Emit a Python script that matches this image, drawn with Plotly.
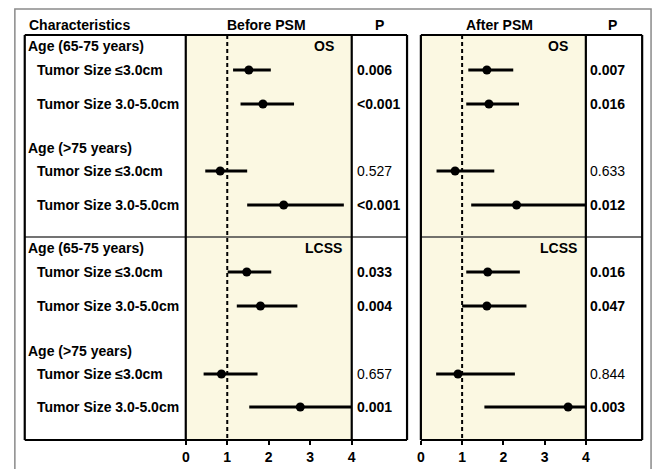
import plotly.graph_objects as go

W, H = 659, 469

# ---------------- data ----------------
row_labels = ["Age (65-75 years)", "Tumor Size ≤3.0cm", "Tumor Size 3.0-5.0cm",
              "Age (>75 years)", "Tumor Size ≤3.0cm", "Tumor Size 3.0-5.0cm",
              "Age (65-75 years)", "Tumor Size ≤3.0cm", "Tumor Size 3.0-5.0cm",
              "Age (>75 years)", "Tumor Size ≤3.0cm", "Tumor Size 3.0-5.0cm"]
row_is_header = [True, False, False, True, False, False,
                 True, False, False, True, False, False]

# estimates per data row (None for header rows)
before_hr = [None, 1.52, 1.86, None, 0.83, 2.36, None, 1.47, 1.80, None, 0.86, 2.76]
before_lo = [None, 1.14, 1.32, None, 0.47, 1.48, None, 1.01, 1.23, None, 0.43, 1.53]
before_hi = [None, 2.05, 2.61, None, 1.48, 3.81, None, 2.06, 2.69, None, 1.73, 4.00]
before_p = [None, "0.006", "<0.001", None, "0.527", "<0.001", None, "0.033", "0.004", None, "0.657", "0.001"]

after_hr = [None, 1.60, 1.65, None, 0.83, 2.32, None, 1.62, 1.60, None, 0.90, 3.57]
after_lo = [None, 1.15, 1.10, None, 0.38, 1.22, None, 1.10, 1.00, None, 0.37, 1.54]
after_hi = [None, 2.24, 2.38, None, 1.78, 4.00, None, 2.40, 2.56, None, 2.28, 4.00]
after_p = [None, "0.007", "0.016", None, "0.633", "0.012", None, "0.016", "0.047", None, "0.844", "0.003"]

section_labels = ["OS", "LCSS"]
x_ticks = [0, 1, 2, 3, 4]
ref_value = 1

# ---------------- layout constants (pixels) ----------------
BOX_TOP, BOX_BOT = 35, 440
DIVIDER_Y = 237
ROW_Y = [46, 70, 104, 148, 171, 205, 248, 272, 306, 351, 374, 407]
SECTION_Y = [46, 248]
X_CHAR_L, X_CHAR_R = 21, 184
X_B_R, X_BP_R = 352, 408
X_A_L, X_A_R, X_AP_R = 422, 589, 646
FONT = "Liberation Sans"
FS = 14


def pxx(x):
    return x / W


def pxy(y):
    return 1 - y / H


fig = go.Figure()


def add_panel(hr, lo, hi, xa):
    lx, ly = [], []
    for v, a, b, y in zip(hr, lo, hi, ROW_Y):
        if v is None:
            continue
        lx += [a, b, None]
        ly += [y, y, None]
    fig.add_trace(go.Scatter(x=lx, y=ly, mode="lines", xaxis=xa, yaxis="y",
                             line=dict(color="black", width=3), hoverinfo="skip",
                             showlegend=False))
    mx = [v for v in hr if v is not None]
    my = [y for v, y in zip(hr, ROW_Y) if v is not None]
    fig.add_trace(go.Scatter(x=mx, y=my, mode="markers", xaxis=xa, yaxis="y",
                             marker=dict(color="black", size=9), showlegend=False))


add_panel(before_hr, before_lo, before_hi, "x")
add_panel(after_hr, after_lo, after_hi, "x2")

shapes = []
# outer gray frame
shapes.append(dict(type="rect", xref="paper", yref="paper", x0=pxx(11), x1=pxx(655),
                   y0=pxy(9), y1=pxy(480), line=dict(color="#8a8a8a", width=1.5)))
# reference dashed lines
for xr in ["x", "x2"]:
    shapes.append(dict(type="line", xref=xr, yref="y", x0=ref_value, x1=ref_value,
                       y0=BOX_TOP, y1=BOX_BOT, line=dict(color="black", width=2, dash="4px,3px")))
# horizontal borders
for (a, b) in [(X_CHAR_L, X_BP_R), (X_A_L, X_AP_R)]:
    for yy, col, wd in [(BOX_TOP, "black", 2.2), (BOX_BOT, "black", 2.2), (DIVIDER_Y, "#444444", 1.5)]:
        shapes.append(dict(type="line", xref="paper", yref="paper", x0=pxx(a), x1=pxx(b),
                           y0=pxy(yy), y1=pxy(yy), line=dict(color=col, width=wd)))
# vertical borders
for xx in [X_CHAR_L, X_CHAR_R, X_B_R, X_BP_R, X_A_L, X_A_R, X_AP_R]:
    shapes.append(dict(type="line", xref="paper", yref="paper", x0=pxx(xx), x1=pxx(xx),
                       y0=pxy(BOX_TOP), y1=pxy(BOX_BOT), line=dict(color="black", width=2.2)))

ann = []
bold = dict(family=FONT, size=FS, color="black", weight="bold")
reg = dict(family=FONT, size=FS, color="black")
# headers
ann.append(dict(text="Characteristics", x=pxx(23), y=pxy(25), xanchor="left"))
ann.append(dict(text="Before PSM", x=pxx(266), y=pxy(25), xanchor="center"))
ann.append(dict(text="P", x=pxx(380), y=pxy(25), xanchor="center"))
ann.append(dict(text="After PSM", x=pxx(502), y=pxy(25), xanchor="center"))
ann.append(dict(text="P", x=pxx(616), y=pxy(25), xanchor="center"))
for a in ann:
    a.update(xref="paper", yref="paper", yanchor="middle", showarrow=False, font=bold)

for lab, hdr, y in zip(row_labels, row_is_header, ROW_Y):
    ann.append(dict(text=lab, x=pxx(22 if hdr else 31), y=y, xref="paper", yref="y",
                    xanchor="left", yanchor="middle", showarrow=False, font=bold))

for plist, xpos in [(before_p, 355), (after_p, 591)]:
    for p, y in zip(plist, ROW_Y):
        if p is None:
            continue
        sig = p.startswith("<") or float(p) < 0.05
        ann.append(dict(text=p, x=pxx(xpos), y=y, xref="paper", yref="y",
                        xanchor="left", yanchor="middle", showarrow=False,
                        font=bold if sig else reg))

for xr in ["x", "x2"]:
    for lab, y in zip(section_labels, SECTION_Y):
        ann.append(dict(text=lab, x=3.33, y=y, xref=xr, yref="y", xanchor="center",
                        yanchor="middle", showarrow=False, font=bold))

axis_common = dict(range=[0, 4], tickvals=x_ticks, ticks="outside", ticklen=4,
                   tickwidth=2, tickcolor="black", showgrid=False, zeroline=False,
                   showline=False, tickfont=dict(family=FONT, size=FS, color="black", weight="bold"),
                   fixedrange=True)

fig.update_layout(
    width=W, height=H,
    margin=dict(l=0, r=0, t=0, b=0),
    paper_bgcolor="white",
    plot_bgcolor="#FBF8E2",
    xaxis=dict(domain=[pxx(X_CHAR_R), pxx(X_B_R)], anchor="y", **axis_common),
    xaxis2=dict(domain=[pxx(X_A_L), pxx(X_A_R)], anchor="y", **axis_common),
    yaxis=dict(domain=[pxy(BOX_BOT), pxy(BOX_TOP)], range=[BOX_BOT, BOX_TOP],
               visible=False, fixedrange=True),
    shapes=shapes,
    annotations=ann,
    showlegend=False,
)

fig.write_html("out.html", config={"displayModeBar": False})

# remove the default page margin so the figure sits at the window's top-left corner
with open("out.html", encoding="utf-8") as f:
    html = f.read()
html = html.replace("<head>", "<head><style>html,body{margin:0;padding:0;overflow:hidden;}</style>", 1)
with open("out.html", "w", encoding="utf-8") as f:
    f.write(html)
